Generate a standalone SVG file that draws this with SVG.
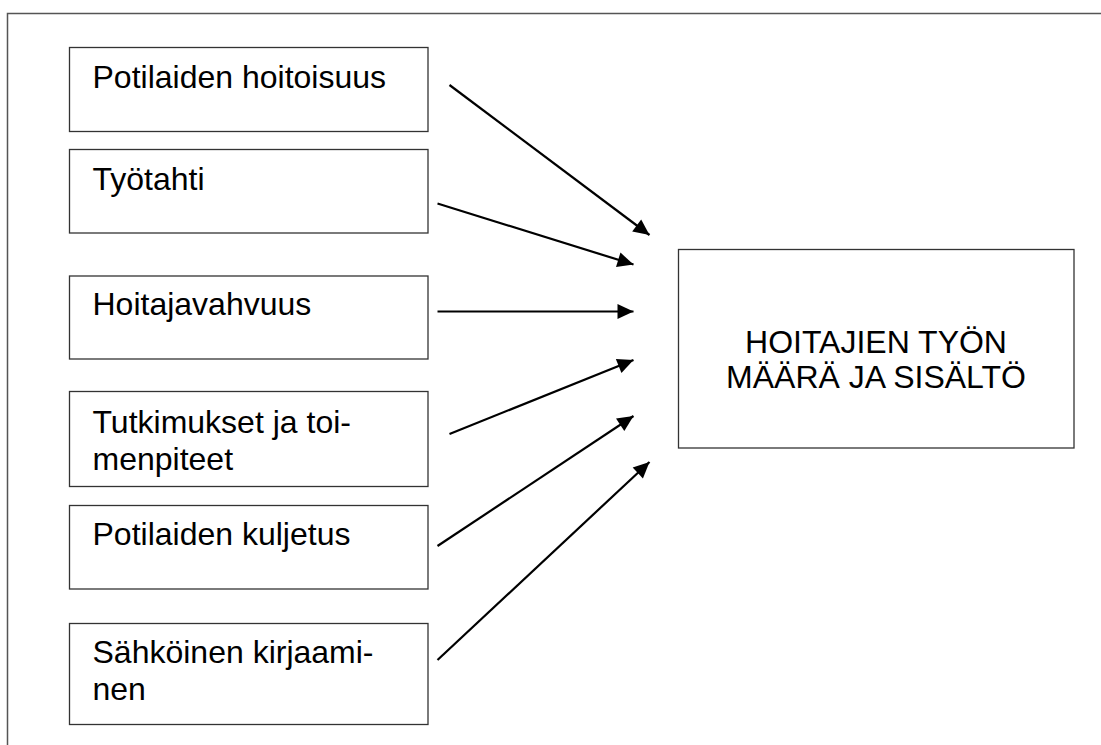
<svg xmlns="http://www.w3.org/2000/svg" width="1101" height="745" viewBox="0 0 1101 745">
<defs>
<style>
.box{fill:#fff;stroke:#333;stroke-width:1.3}
.t{font-family:"Liberation Sans",Arial,sans-serif;font-size:32px;fill:#000}
.c{stroke:#000;stroke-width:2.2;fill:none;marker-end:url(#ah)}
.frame{stroke:#555;stroke-width:1.5;fill:none}
</style>
<marker id="ah" markerUnits="userSpaceOnUse" markerWidth="17" markerHeight="16" refX="16" refY="7.5" orient="auto" overflow="visible">
<path d="M0,0 L16,7.5 L0,15 z" fill="#000"/>
</marker>
</defs>
<rect width="1101" height="745" fill="#fff"/>
<path class="frame" d="M7.5,745 V13.5 H1101"/>
<g id="n1"><rect class="box" x="69.5" y="47.5" width="358.5" height="84"/><text class="t" x="92.5" y="88">Potilaiden hoitoisuus</text></g>
<g id="n2"><rect class="box" x="69.5" y="149.5" width="358.5" height="83.5"/><text class="t" x="92.5" y="190">Työtahti</text></g>
<g id="n3"><rect class="box" x="69.5" y="276" width="358.5" height="83"/><text class="t" x="92.5" y="315">Hoitajavahvuus</text></g>
<g id="n4"><rect class="box" x="69.5" y="391.5" width="358.5" height="95"/><text class="t" x="92.5" y="433">Tutkimukset ja toi-</text><text class="t" x="92.5" y="470">menpiteet</text></g>
<g id="n5"><rect class="box" x="69.5" y="505.5" width="358.5" height="83.5"/><text class="t" x="92.5" y="545">Potilaiden kuljetus</text></g>
<g id="n6"><rect class="box" x="69.5" y="623.5" width="358.5" height="101"/><text class="t" x="92.5" y="663">Sähköinen kirjaami-</text><text class="t" x="92.5" y="700">nen</text></g>
<g id="target"><rect class="box" x="678.5" y="249.5" width="395.5" height="198.5"/><text class="t" x="876" y="353" text-anchor="middle">HOITAJIEN TYÖN</text><text class="t" x="876" y="388" text-anchor="middle">MÄÄRÄ JA SISÄLTÖ</text></g>
<g id="connectors">
<line class="c" x1="449.5" y1="85" x2="649.5" y2="235"/>
<line class="c" x1="437.5" y1="203.5" x2="633.5" y2="264.5"/>
<line class="c" x1="437.5" y1="311.5" x2="633.5" y2="311.5"/>
<line class="c" x1="449.5" y1="434" x2="633.5" y2="360"/>
<line class="c" x1="437.5" y1="546" x2="633.5" y2="416"/>
<line class="c" x1="437.5" y1="660" x2="649.5" y2="462"/>
</g>
</svg>
